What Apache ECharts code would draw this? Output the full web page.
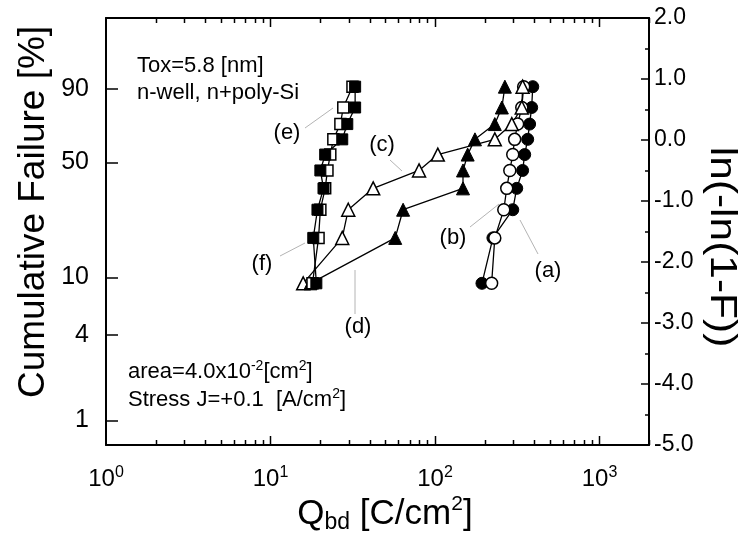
<!DOCTYPE html>
<html>
<head>
<meta charset="utf-8">
<script src="https://cdn.jsdelivr.net/npm/echarts@6/dist/echarts.min.js"></script>
<style>
  html, body { margin: 0; padding: 0; background: #fff; }
  #main { width: 745px; height: 534px; }
</style>
</head>
<body>
<div id="main"></div>
<script>
// cumulative failure levels [%] (rank i/(n+1), n = 10), bottom to top
const failPct = [9.1, 18.2, 27.3, 36.4, 45.5, 54.5, 63.6, 72.7, 81.8, 90.9];
// Qbd [C/cm2], same order as failPct
const qbdA = [193, 225, 297, 314, 341, 351, 366, 376, 387, 393];   // filled circle
const qbdB = [221, 231, 262, 273, 285, 297, 305, 318, 337, 346];   // open circle
const qbdC = [15.8, 27.3, 29.7, 42.1, 80, 104, 231, 293, 337, 341]; // open triangle
const qbdD = [17.5, 57.3, 64, 148, 148, 158, 175, 231, 255, 266]; // filled triangle
const qbdE = [18.0, 19.6, 20.1, 21.5, 22.2, 23.1, 24.1, 26.6, 27.7, 31.5]; // open square
const qbdF = [19.0, 18.2, 19.3, 21.0, 20.1, 21.5, 27.3, 29.3, 32.7, 32.7]; // filled square

// tick labels
const xMajor = [1, 10, 100, 1000];
const leftPct = [1, 4, 10, 50, 90];
const rightTicks = [-5, -4, -3, -2, -1, 0, 1, 2];

const X_MAX = 2000;
const Y_MIN = -5, Y_MAX = 2;
const FONT = '"Liberation Sans", Arial, Helvetica, sans-serif';
const weib = p => Math.log(-Math.log(1 - p / 100));

// minor ticks 2..9 per decade
let xMinor = [];
xMajor.forEach(d => { for (let k = 2; k <= 9; k++) if (k * d <= X_MAX) xMinor.push(k * d); });

function pts(q) { return q.map((v, i) => [v, weib(failPct[i])]); }

function mk(name, q, symbol, size, filled) {
  return {
    name, type: 'line', data: pts(q),
    xAxisIndex: 0, yAxisIndex: 0,
    symbol, symbolSize: size, showSymbol: true,
    lineStyle: { color: '#000', width: 1.3 },
    itemStyle: filled ? { color: '#000', borderColor: '#000', borderWidth: 1 }
                      : { color: '#fff', borderColor: '#000', borderWidth: 1.5 },
    emphasis: { disabled: true },
    animation: false
  };
}

const tickLine = { color: '#000', width: 1.5 };
const logAxis = { type: 'log', logBase: 10, min: 1, max: X_MAX, splitLine: { show: false } };
function txt(x, y, s, size) {
  return { type: 'text', x, y, style: { text: s, font: size + 'px ' + FONT, fill: '#000', align: 'center', verticalAlign: 'middle' } };
}
function leader(x1, y1, x2, y2) {
  return { type: 'line', shape: { x1, y1, x2, y2 }, style: { stroke: '#b4b4b4', lineWidth: 1 } };
}

const chart = echarts.init(document.getElementById('main'));
chart.setOption({
  animation: false,
  backgroundColor: '#fff',
  grid: { left: 106, right: 96, top: 18, bottom: 89 },
  xAxis: [
    Object.assign({}, logAxis, {
      position: 'bottom',
      axisLine: { onZero: false, lineStyle: { color: '#000', width: 2 } },
      axisTick: { show: false },
      axisLabel: {
        customValues: xMajor, margin: 20,
        formatter: v => '{b|10}{e|' + Math.round(Math.log10(v)) + '}',
        rich: {
          b: { fontFamily: FONT, fontSize: 24, color: '#000', lineHeight: 28 },
          e: { fontFamily: FONT, fontSize: 16, color: '#000', lineHeight: 18, verticalAlign: 'top' }
        }
      }
    }),
    Object.assign({}, logAxis, {
      position: 'top',
      axisLine: { onZero: false, lineStyle: { color: '#000', width: 2 } },
      axisTick: { show: false },
      axisLabel: { show: false }
    })
  ],
  yAxis: [
    {
      type: 'value', position: 'right', min: Y_MIN, max: Y_MAX, interval: 1,
      splitLine: { show: false },
      axisLine: { show: true, onZero: false, lineStyle: { color: '#000', width: 2 } },
      axisTick: { show: true, inside: true, length: 8, lineStyle: tickLine },
      minorTick: { show: true, splitNumber: 2, length: 4, lineStyle: tickLine },
      axisLabel: {
        customValues: rightTicks, margin: 5,
        formatter: v => v.toFixed(1),
        fontFamily: FONT, fontSize: 23, color: '#000'
      }
    },
    {
      type: 'value', position: 'left', min: Y_MIN, max: Y_MAX,
      splitLine: { show: false },
      axisLine: { show: true, onZero: false, lineStyle: { color: '#000', width: 2 } },
      axisTick: { show: true, inside: true, length: 12, customValues: leftPct.map(weib), lineStyle: tickLine },
      axisLabel: {
        customValues: leftPct.map(weib), margin: 17,
        formatter: v => String(Math.round((1 - Math.exp(-Math.exp(v))) * 100)),
        fontFamily: FONT, fontSize: 25, color: '#000'
      }
    }
  ],
  series: [
    mk('(a)', qbdA, 'circle', 12, true),
    mk('(b)', qbdB, 'circle', 12, false),
    mk('(c)', qbdC, 'triangle', 13, false),
    mk('(d)', qbdD, 'triangle', 13, true),
    mk('(e)', qbdE, 'rect', 11, false),
    mk('(f)', qbdF, 'rect', 11, true)
  ]
});

// inward x ticks on bottom and top frame, placed through the log axis
// (custom ticks on a log axis get dropped above its log extent)
const yBot = chart.convertToPixel({ yAxisIndex: 0 }, Y_MIN);
const yTop = chart.convertToPixel({ yAxisIndex: 0 }, Y_MAX);
let ticks = [];
[[xMinor, 5], [xMajor.slice(1), 9]].forEach(([vals, len]) => {
  vals.forEach(v => {
    const x = Math.round(chart.convertToPixel({ xAxisIndex: 0 }, v)) + 0.5;
    ticks.push({ type: 'line', shape: { x1: x, y1: yBot, x2: x, y2: yBot - len }, style: { stroke: '#000', lineWidth: 1.5 } });
    ticks.push({ type: 'line', shape: { x1: x, y1: yTop, x2: x, y2: yTop + len }, style: { stroke: '#000', lineWidth: 1.5 } });
  });
});

chart.setOption({
  graphic: ticks.concat([
    // axis names
    { type: 'text', x: 34, y: 212, rotation: Math.PI / 2,
      style: { text: 'Cumulative Failure [%]', font: '37px ' + FONT, fill: '#000', align: 'center', verticalAlign: 'middle' } },
    { type: 'text', x: 721, y: 247, rotation: -Math.PI / 2, scaleX: 1.18,
      style: { text: 'ln(-ln(1-F))', font: '36px ' + FONT, fill: '#000', align: 'center', verticalAlign: 'middle' } },
    { type: 'text', x: 385, y: 514,
      style: {
        text: '{q|Q}{s|bd}{q| [C/cm}{p|2}{q|]}', align: 'center', verticalAlign: 'middle',
        rich: {
          q: { fontFamily: FONT, fontSize: 35, fill: '#000', lineHeight: 40 },
          s: { fontFamily: FONT, fontSize: 23, fill: '#000', lineHeight: 30, verticalAlign: 'bottom' },
          p: { fontFamily: FONT, fontSize: 21, fill: '#000', lineHeight: 26, verticalAlign: 'top' }
        }
      } },
    // annotation texts
    { type: 'text', x: 137, y: 66,
      style: { text: 'Tox=5.8 [nm]', font: '22px ' + FONT, fill: '#000', align: 'left', verticalAlign: 'middle' } },
    { type: 'text', x: 137, y: 93,
      style: { text: 'n-well, n+poly-Si', font: '22px ' + FONT, fill: '#000', align: 'left', verticalAlign: 'middle' } },
    { type: 'text', x: 128, y: 372,
      style: {
        text: '{t|area=4.0x10}{u|-2}{t|[cm}{u|2}{t|]}', align: 'left', verticalAlign: 'middle',
        rich: {
          t: { fontFamily: FONT, fontSize: 22, fill: '#000', lineHeight: 26 },
          u: { fontFamily: FONT, fontSize: 14, fill: '#000', lineHeight: 16, verticalAlign: 'top' }
        }
      } },
    { type: 'text', x: 128, y: 400,
      style: {
        text: '{t|Stress J=+0.1  [A/cm}{u|2}{t|]}', align: 'left', verticalAlign: 'middle',
        rich: {
          t: { fontFamily: FONT, fontSize: 22, fill: '#000', lineHeight: 26 },
          u: { fontFamily: FONT, fontSize: 14, fill: '#000', lineHeight: 16, verticalAlign: 'top' }
        }
      } },
    // curve labels
    txt(287, 133, '(e)', 22),
    txt(382, 145, '(c)', 22),
    txt(453, 238, '(b)', 22),
    txt(548, 271, '(a)', 22),
    txt(262, 264, '(f)', 22),
    txt(358, 327, '(d)', 22),
    // leader lines
    leader(305, 128, 333, 108),
    leader(390, 160, 402, 171),
    leader(470, 227, 499, 204),
    leader(538, 254, 520, 220),
    leader(280, 256, 305, 243),
    leader(355, 314, 355, 270)
  ])
});
</script>
</body>
</html>
